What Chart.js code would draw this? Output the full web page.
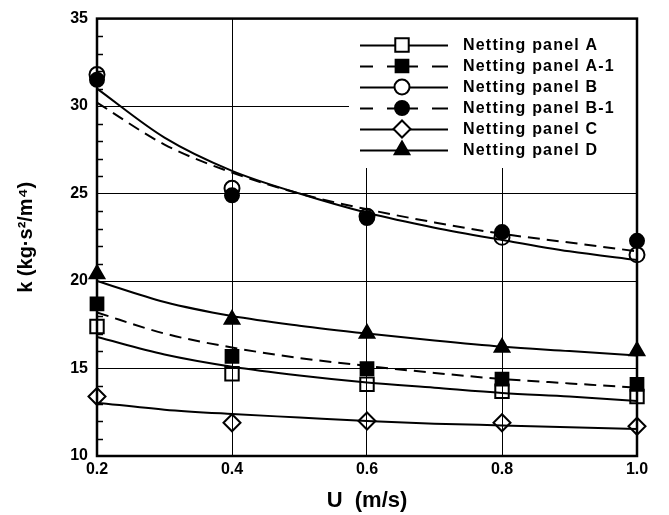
<!DOCTYPE html>
<html>
<head>
<meta charset="utf-8">
<script src="https://cdn.jsdelivr.net/npm/chart.js@4/dist/chart.umd.min.js"></script>
<style>
  html, body { margin: 0; padding: 0; background: #fff; }
  #wrap { width: 669px; height: 515px; }
</style>
</head>
<body>
<div id="wrap"><canvas id="c" width="669" height="515"></canvas></div>
<script>
// Measured points
const U = [0.2, 0.4, 0.6, 0.8, 1.0];
const kA  = [17.4, 14.7, 14.1, 13.7, 13.4];
const kA1 = [18.7, 15.7, 15.0, 14.4, 14.1];
const kB  = [31.8, 25.3, 23.7, 22.5, 21.5];
const kB1 = [31.5, 24.9, 23.6, 22.8, 22.3];
const kC  = [13.4, 11.9, 12.0, 11.9, 11.7];
const kD  = [20.4, 17.8, 17.0, 16.2, 16.0];

// Fitted curves
const fitU  = [0.2, 0.3, 0.4, 0.5, 0.6, 0.7, 0.8, 0.9, 1.0];
const fitA  = [16.8, 15.8, 15.1, 14.6, 14.2, 13.9, 13.6, 13.4, 13.15];
const fitA1 = [18.2, 17.0, 16.2, 15.6, 15.15, 14.75, 14.4, 14.15, 13.9];
const fitB  = [31.0, 28.2, 26.3, 25.0, 23.9, 23.05, 22.35, 21.7, 21.2];
const fitB1 = [30.2, 27.8, 26.2, 25.0, 24.1, 23.35, 22.7, 22.2, 21.7];
const fitC  = [13.05, 12.65, 12.4, 12.2, 12.0, 11.85, 11.75, 11.65, 11.55];
const fitD  = [20.0, 18.8, 18.0, 17.45, 17.0, 16.6, 16.25, 16.0, 15.75];

const seriesNames = ['Netting panel A', 'Netting panel A-1', 'Netting panel B',
                     'Netting panel B-1', 'Netting panel C', 'Netting panel D'];
const pointSets = [kA, kA1, kB, kB1, kC, kD];
const fitSets = [fitA, fitA1, fitB, fitB1, fitC, fitD];
const styles = [
  { shape: 'rect',     radius: 9.5, fill: false, dash: [] },
  { shape: 'rect',     radius: 9,   fill: true,  dash: [12, 7] },
  { shape: 'circle',   radius: 7.5, fill: false, dash: [] },
  { shape: 'circle',   radius: 7,   fill: true,  dash: [12, 7] },
  { shape: 'rectRot',  radius: 8.5, fill: false, dash: [] },
  { shape: 'triangle', radius: 8.5, fill: true,  dash: [] }
];

const toXY = (xs, ys) => xs.map((x, i) => ({ x: x, y: ys[i] }));

const datasets = [];
fitSets.forEach((ys, i) => {
  datasets.push({
    label: seriesNames[i] + ' fit',
    data: toXY(fitU, ys),
    borderColor: '#000',
    borderWidth: 2,
    borderDash: styles[i].dash,
    pointRadius: 0,
    cubicInterpolationMode: 'monotone',
    fill: false,
    clip: false
  });
});
pointSets.forEach((ys, i) => {
  const s = styles[i];
  datasets.push({
    label: seriesNames[i],
    data: toXY(U, ys),
    showLine: false,
    pointStyle: s.shape,
    pointRadius: s.radius,
    pointHoverRadius: s.radius,
    pointBorderWidth: 2,
    pointBorderColor: '#000',
    pointBackgroundColor: s.fill ? '#000' : 'rgba(0,0,0,0)',
    clip: false
  });
});

function drawMarker(ctx, shape, x, y, r, fill) {
  ctx.save();
  ctx.beginPath();
  if (shape === 'rect') {
    const s = Math.SQRT1_2 * r;
    ctx.rect(x - s, y - s, 2 * s, 2 * s);
  } else if (shape === 'circle') {
    ctx.arc(x, y, r, 0, Math.PI * 2);
  } else if (shape === 'rectRot') {
    ctx.moveTo(x - r, y); ctx.lineTo(x, y - r); ctx.lineTo(x + r, y); ctx.lineTo(x, y + r); ctx.closePath();
  } else if (shape === 'triangle') {
    const a = -Math.PI / 2;
    for (let k = 0; k < 3; k++) {
      const ang = a + k * 2 * Math.PI / 3;
      const px = x + Math.cos(ang) * r, py = y + Math.sin(ang) * r;
      if (k === 0) ctx.moveTo(px, py); else ctx.lineTo(px, py);
    }
    ctx.closePath();
  }
  ctx.lineWidth = 2;
  ctx.strokeStyle = '#000';
  ctx.fillStyle = fill ? '#000' : '#fff';
  ctx.fill();
  ctx.stroke();
  ctx.restore();
}

const framePlugin = {
  id: 'framePlugin',
  beforeDatasetsDraw(chart) {
    const ctx = chart.ctx, a = chart.chartArea;
    ctx.save();
    ctx.fillStyle = '#fff';
    ctx.fillRect(349, a.top, a.right - 349, 168 - a.top);
    ctx.restore();
  },
  afterDatasetsDraw(chart) {
    const ctx = chart.ctx, a = chart.chartArea;
    const ys = chart.scales.y;
    ctx.save();
    ctx.strokeStyle = '#000';
    ctx.lineWidth = 1.5;
    for (let v = 11; v < 35; v++) {
      if (v % 5 === 0) continue;
      const py = Math.round(ys.getPixelForValue(v)) + 0.5;
      ctx.beginPath();
      ctx.moveTo(a.left, py);
      ctx.lineTo(a.left + 6, py);
      ctx.stroke();
    }
    ctx.lineWidth = 2.5;
    ctx.strokeRect(a.left, a.top, a.right - a.left, a.bottom - a.top);
    const rows = [45, 66, 87, 108, 129, 150];
    ctx.font = 'bold 16px "Liberation Sans", Arial, sans-serif';
    ctx.textBaseline = 'middle';
    ctx.textAlign = 'left';
    try { ctx.letterSpacing = '1.2px'; } catch (e) {}
    rows.forEach((ry, i) => {
      const s = styles[i];
      ctx.lineWidth = 2;
      ctx.setLineDash([]);
      const segs = s.dash.length ? [[360, 373], [387, 418], [432, 448]] : [[360, 448]];
      segs.forEach(sg => {
        ctx.beginPath();
        ctx.moveTo(sg[0], ry + 0.5);
        ctx.lineTo(sg[1], ry + 0.5);
        ctx.stroke();
      });
      drawMarker(ctx, s.shape, 402, ry, s.radius, s.fill);
      ctx.fillStyle = '#000';
      ctx.fillText(seriesNames[i], 463, ry + 1);
    });
    ctx.restore();
  }
};

new Chart(document.getElementById('c'), {
  type: 'line',
  data: { datasets: datasets },
  plugins: [framePlugin],
  options: {
    responsive: false,
    animation: false,
    events: [],
    layout: { padding: { left: 0, right: 32, top: 12, bottom: 0 } },
    plugins: { legend: { display: false }, tooltip: { enabled: false } },
    scales: {
      x: {
        type: 'linear',
        min: 0.2, max: 1.0,
        afterFit(scale) { scale.height = 59; },
        ticks: {
          stepSize: 0.2,
          padding: 4,
          color: '#000',
          font: { family: '"Liberation Sans", Arial, sans-serif', size: 16, weight: 'bold' },
          callback: v => Number(v).toFixed(1),
          maxRotation: 0
        },
        grid: { color: '#000', lineWidth: 1, drawTicks: false },
        border: { display: false },
        title: {
          display: true,
          text: 'U  (m/s)',
          color: '#000',
          font: { family: '"Liberation Sans", Arial, sans-serif', size: 22, weight: 'bold' },
          padding: { top: 0, bottom: 1 }
        }
      },
      y: {
        min: 10, max: 35,
        afterFit(scale) { scale.width = 97; },
        ticks: {
          stepSize: 5,
          padding: 9,
          color: '#000',
          font: { family: '"Liberation Sans", Arial, sans-serif', size: 16, weight: 'bold' }
        },
        grid: { color: '#000', lineWidth: 1, drawTicks: false },
        border: { display: false },
        title: {
          display: true,
          text: 'k (kg·s²/m⁴)',
          color: '#000',
          font: { family: '"Liberation Sans", Arial, sans-serif', size: 20, weight: 'bold' },
          padding: { top: 14, bottom: 0 }
        }
      }
    }
  }
});
</script>
</body>
</html>
